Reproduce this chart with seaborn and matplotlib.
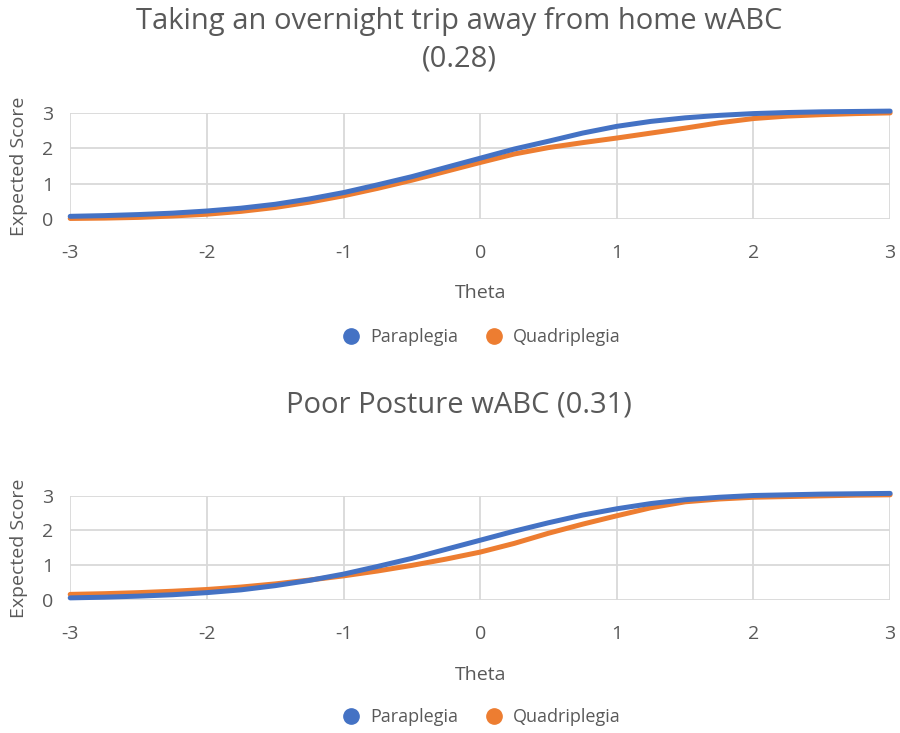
"""Expected score curves by injury group for two wABC items."""

import pandas as pd
import matplotlib
matplotlib.use("Agg")
import matplotlib.pyplot as plt
from matplotlib.lines import Line2D
import seaborn as sns

THETA = [-3.0, -2.75, -2.5, -2.25, -2.0, -1.75, -1.5, -1.25, -1.0, -0.75, -0.5, -0.25,
         0.0, 0.25, 0.5, 0.75, 1.0, 1.25, 1.5, 1.75, 2.0, 2.25, 2.5, 2.75, 3.0]

# Taking an overnight trip away from home
TRIP_PARA = [0.08, 0.10, 0.13, 0.17, 0.23, 0.31, 0.42, 0.57, 0.75, 0.97, 1.20, 1.46,
             1.72, 1.98, 2.20, 2.43, 2.62, 2.76, 2.86, 2.93, 2.98, 3.01, 3.03, 3.04, 3.05]
TRIP_QUAD = [0.02, 0.03, 0.05, 0.09, 0.14, 0.22, 0.33, 0.48, 0.66, 0.87, 1.10, 1.35,
             1.60, 1.84, 2.02, 2.16, 2.29, 2.43, 2.57, 2.72, 2.84, 2.91, 2.95, 2.98, 3.00]

# Poor posture
POSTURE_PARA = [0.07, 0.09, 0.12, 0.16, 0.22, 0.30, 0.42, 0.57, 0.75, 0.97, 1.20, 1.46,
                1.72, 1.98, 2.22, 2.44, 2.62, 2.77, 2.88, 2.95, 3.00, 3.02, 3.04, 3.05, 3.06]
POSTURE_QUAD = [0.17, 0.19, 0.22, 0.26, 0.31, 0.38, 0.47, 0.58, 0.70, 0.84, 1.00, 1.18,
                1.38, 1.63, 1.92, 2.18, 2.42, 2.65, 2.82, 2.90, 2.95, 2.97, 2.99, 3.01, 3.02]

GROUPS = ["Paraplegia", "Quadriplegia"]
COLORS = {"Paraplegia": "#4472C4", "Quadriplegia": "#ED7D31"}
TEXT = "#595959"

PANELS = [
    ("Taking an overnight trip away from home wABC\n(0.28)", TRIP_PARA, TRIP_QUAD),
    ("Poor Posture wABC (0.31)", POSTURE_PARA, POSTURE_QUAD),
]

sns.set_theme(style="white")
plt.rcParams["font.family"] = ["Open Sans", "DejaVu Sans"]
plt.rcParams["axes.unicode_minus"] = False

fig = plt.figure(figsize=(9, 7.33), dpi=100)
# [left, bottom, width, height] in figure fraction
boxes = [[0.078, 0.701, 0.911, 0.145], [0.078, 0.181, 0.911, 0.143]]
title_y = [0.945, 0.447]
legend_y = [0.54, 0.022]

for (title, para, quad), box, ty, ly in zip(PANELS, boxes, title_y, legend_y):
    df = pd.DataFrame({
        "Theta": THETA * 2,
        "Score": para + quad,
        "Group": [GROUPS[0]] * len(THETA) + [GROUPS[1]] * len(THETA),
    })
    ax = fig.add_axes(box)
    sns.lineplot(data=df, x="Theta", y="Score", hue="Group", hue_order=GROUPS[::-1],
                 palette=COLORS, linewidth=3.6, ax=ax, legend=False, clip_on=False)
    ax.set_xlim(-3, 3)
    ax.set_ylim(0, 3)
    ax.set_xticks(range(-3, 4))
    ax.set_yticks(range(0, 4))
    ax.grid(True, color="#D9D9D9", linewidth=1.3)
    ax.set_axisbelow(True)
    for s in ax.spines.values():
        s.set_visible(False)
    ax.tick_params(axis="x", labelsize=14, colors=TEXT, pad=18, length=0)
    ax.tick_params(axis="y", labelsize=14, colors=TEXT, pad=12, length=0)
    ax.set_xlabel("Theta", fontsize=14, color=TEXT, labelpad=16)
    ax.set_ylabel("Expected Score", fontsize=14, color=TEXT, labelpad=10)
    fig.text(0.51, ty, title, ha="center", va="center", fontsize=21, color=TEXT,
             linespacing=1.35)

    handles = [Line2D([], [], marker="o", linestyle="", markersize=11,
                      color=COLORS[g]) for g in GROUPS]
    fig.legend(handles, GROUPS, loc="center", bbox_to_anchor=(0.53, ly), ncol=2,
               frameon=False, fontsize=13, labelcolor=TEXT, handletextpad=0.05,
               columnspacing=1.0)

fig.savefig("out.png", dpi=100)
